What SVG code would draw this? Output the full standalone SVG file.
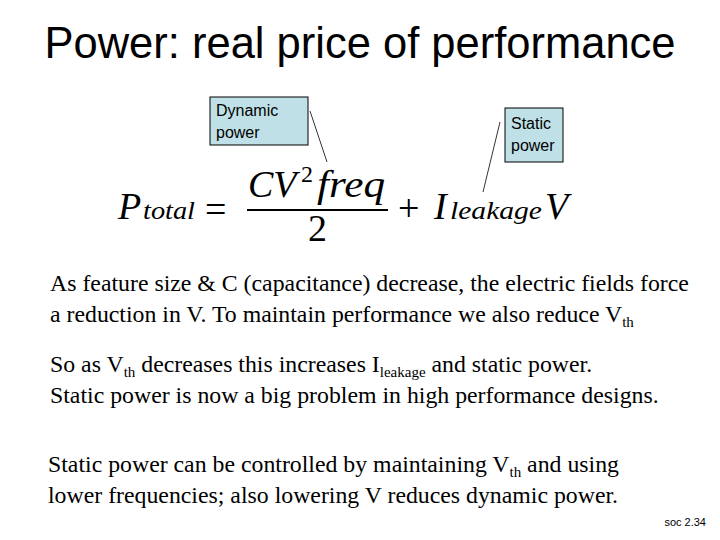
<svg xmlns="http://www.w3.org/2000/svg" width="720" height="540" viewBox="0 0 720 540">
<style>
.box{fill:#bfe0e6;stroke:#000;stroke-width:1}
.lbl{font-family:"Liberation Sans",Arial,sans-serif;font-size:16px}
.m{font-family:"Liberation Serif","DejaVu Serif",serif;font-style:italic}
.b{font-family:"Liberation Serif",serif;font-size:23.8px}
.s{font-size:15px}
</style>
<rect width="720" height="540" fill="#fff"/>
<text x="360" y="58" text-anchor="middle" font-family="Liberation Sans,Arial,sans-serif" font-size="43.5">Power: real price of performance</text>
<g id="connectors" stroke="#000" stroke-width="0.8">
<line x1="310" y1="111" x2="327" y2="162"/>
<line x1="500" y1="122" x2="483" y2="192"/>
</g>
<g id="dynamic"><rect class="box" x="210" y="97" width="98" height="48"/><text class="lbl" x="216" y="116">Dynamic</text><text class="lbl" x="216" y="138">power</text></g>
<g id="static"><rect class="box" x="505" y="108" width="58" height="54"/><text class="lbl" x="511" y="129">Static</text><text class="lbl" x="511" y="151">power</text></g>
<g id="formula">
<text class="m" x="118" y="219" font-size="38">P</text>
<text class="m" x="143" y="219" font-size="26" textLength="52" lengthAdjust="spacingAndGlyphs">total</text>
<text x="205" y="222" font-family="Liberation Serif,serif" font-size="38">=</text>
<text class="m" x="248" y="197" font-size="38">CV</text>
<text x="301" y="182" font-family="Liberation Serif,serif" font-size="24">2</text>
<text class="m" x="317" y="197" font-size="38" textLength="68" lengthAdjust="spacingAndGlyphs">freq</text>
<line x1="247" y1="210" x2="388" y2="210" stroke="#000" stroke-width="1.8"/>
<text x="308" y="241" font-family="Liberation Serif,serif" font-size="38">2</text>
<text x="398" y="221" font-family="Liberation Serif,serif" font-size="38">+</text>
<text class="m" x="434" y="219" font-size="38">I</text>
<text class="m" x="450" y="219" font-size="26" textLength="92" lengthAdjust="spacingAndGlyphs">leakage</text>
<text class="m" x="545" y="219" font-size="38">V</text>
</g>
<g class="b">
<text x="50" y="291">As feature size &amp; C (capacitance) decrease, the electric fields force</text>
<text x="50" y="322">a reduction in V. To maintain performance we also reduce V<tspan class="s" dy="5">th</tspan></text>
<text x="50" y="372">So as V<tspan class="s" dy="5">th</tspan><tspan dy="-5"> decreases this increases I</tspan><tspan class="s" dy="5">leakage</tspan><tspan dy="-5"> and static power.</tspan></text>
<text x="50" y="403">Static power is now a big problem in high performance designs.</text>
<text x="48" y="472">Static power can be controlled by maintaining V<tspan class="s" dy="5">th</tspan><tspan dy="-5"> and using</tspan></text>
<text x="48" y="503">lower frequencies; also lowering V reduces dynamic power.</text>
</g>
<text x="706" y="526" text-anchor="end" font-family="Liberation Sans,Arial,sans-serif" font-size="11">soc 2.34</text>
</svg>
